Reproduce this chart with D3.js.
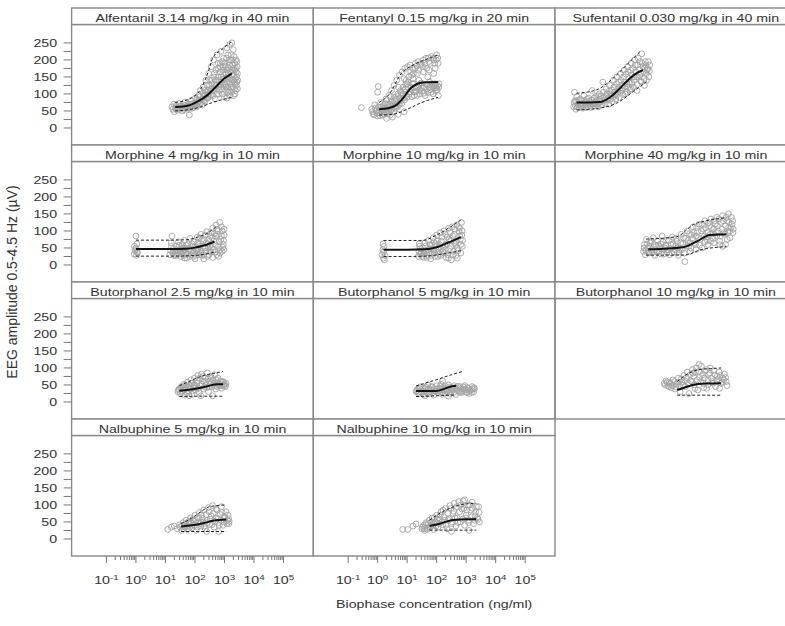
<!DOCTYPE html>
<html>
<head>
<meta charset="utf-8">
<script src="https://cdn.jsdelivr.net/npm/d3@7"></script>
<style>
  html, body { margin: 0; padding: 0; background: #fff; }
  svg { display: block; font-family: "Liberation Sans", Arial, Helvetica, sans-serif; }
</style>
</head>
<body>
<svg id="chart" width="785" height="626"></svg>
<script>
// ---- Panel titles (lattice order: left-to-right, top-to-bottom) ----
const panelTitles = [
  "Alfentanil 3.14 mg/kg in 40 min", "Fentanyl 0.15 mg/kg in 20 min", "Sufentanil 0.030 mg/kg in 40 min",
  "Morphine 4 mg/kg in 10 min", "Morphine 10 mg/kg in 10 min", "Morphine 40 mg/kg in 10 min",
  "Butorphanol 2.5 mg/kg in 10 min", "Butorphanol 5 mg/kg in 10 min", "Butorphanol 10 mg/kg in 10 min",
  "Nalbuphine 5 mg/kg in 10 min", "Nalbuphine 10 mg/kg in 10 min"
];

// ---- Axis ticks ----
const yMajorTicks = [0, 50, 100, 150, 200, 250];
const yMinorTicks = [25, 75, 125, 175, 225];
const xDecades = [-1, 0, 1, 2, 3, 4, 5];
const xMinorMultipliers = [2, 3, 4, 5, 6, 7, 8, 9];

// ---- Observations: [log10 biophase concentration (ng/ml), EEG amplitude (µV)] ----
const alfentanilObs = [[1.22,62],[1.25,55],[1.28,70],[1.30,48],[1.33,60],[1.36,66],[1.40,52],[1.42,58],[1.45,72],[1.50,55],[1.53,63],[1.57,50],[1.60,68],[1.63,58],[1.66,76],[1.70,62],[1.74,55],[1.78,70],[1.81,38],[1.84,64],[1.87,80],[1.90,58],[1.94,72],[1.98,66],[2.02,88],[2.05,62],[2.08,78],[2.12,96],[2.15,70],[2.18,110],[2.22,84],[2.25,68],[2.28,120],[2.31,95],[2.34,78],[2.37,140],[2.40,105],[2.43,88],[2.46,160],[2.49,125],[2.52,96],[2.55,180],[2.58,140],[2.60,110],[2.63,200],[2.66,160],[2.69,85],[2.72,125],[2.75,215],[2.78,175],[2.80,100],[2.83,140],[2.86,190],[2.88,225],[2.91,115],[2.94,160],[2.97,205],[3.00,90],[3.02,130],[3.05,180],[3.08,235],[3.10,150],[3.12,105],[3.15,195],[3.18,245],[3.20,165],[3.22,120],[3.25,250],[3.27,185],[3.29,140],[3.31,95],[3.33,210],[3.35,170],[3.37,130],[3.39,200],[3.41,150],[3.43,180],[3.44,115],[3.30,230],[3.12,215],[2.98,145],[3.36,100],[3.05,120],[2.85,165],[2.70,140],[3.15,175],[3.25,155],[3.35,190],[3.40,165],[3.10,135],[3.20,200],[3.30,175],[2.90,135],[2.95,180],[3.05,160],[2.80,120],[2.65,130],[2.55,115],[2.45,100],[2.35,95],[2.25,85],[2.10,75],[1.95,60],[3.42,135],[3.38,110],
  [1.35,57],[1.48,64],[1.55,58],[1.62,54],[1.68,66],[1.72,60],[1.76,65],[1.83,58],[1.88,70],[1.92,64],[2.00,72],[2.03,66],[2.07,84],[2.13,80],[2.17,92],[2.20,75],[2.27,102],[2.30,80],[2.33,110],[2.38,88],[2.41,125],[2.44,112],[2.47,92],[2.50,140],[2.53,108],[2.57,130],[2.61,95],[2.64,150],[2.67,118],[2.71,170],[2.74,100],[2.77,150],[2.79,190],[2.82,110],[2.84,180],[2.87,128],[2.89,150],[2.92,195],[2.93,100],[2.96,170],[2.99,125],[3.01,190],[3.03,110],[3.04,145],[3.07,205],[3.09,170],[3.11,120],[3.13,160],[3.14,140],[3.16,110],[3.17,185],[3.19,130],[3.21,145],[3.23,215],[3.24,105],[3.26,170],[3.28,120],[3.28,200],[3.32,155],[3.34,115],[3.36,145],[3.38,175],[3.40,125],[3.42,195],[3.44,160],[3.45,140],[3.33,135],[3.18,95],[3.08,88]];
const alfentanilMedian = [[1.33,62],[1.6,63],[1.85,68],[2.1,78],[2.4,95],[2.72,122],[3.0,146],[3.25,160]];
const alfentanilP95 = [[1.33,75],[1.8,85],[2.2,115],[2.45,165],[2.6,205],[2.9,230],[3.22,252]];
const alfentanilP05 = [[1.33,50],[1.8,54],[2.2,62],[2.6,75],[3.0,85],[3.25,90]];

const fentanylObs = [[-0.55,60],[0.02,122],[0.0,105],[-0.20,55],[-0.15,42],[-0.10,68],[-0.05,50],[0.00,35],[0.03,62],[0.06,45],[0.10,75],[0.13,55],[0.16,38],[0.20,66],[0.24,48],[0.28,85],[0.31,58],[0.34,42],[0.38,95],[0.41,70],[0.44,52],[0.47,110],[0.50,80],[0.53,60],[0.56,125],[0.59,90],[0.62,65],[0.65,140],[0.68,100],[0.71,72],[0.74,155],[0.77,110],[0.80,80],[0.83,165],[0.86,120],[0.89,88],[0.92,175],[0.95,128],[0.98,95],[1.01,180],[1.04,135],[1.07,100],[1.10,185],[1.13,120],[1.16,92],[1.19,175],[1.22,130],[1.25,105],[1.28,190],[1.31,118],[1.34,96],[1.37,195],[1.40,125],[1.43,100],[1.46,185],[1.49,132],[1.52,108],[1.55,200],[1.58,120],[1.61,95],[1.64,205],[1.67,128],[1.70,104],[1.73,195],[1.76,135],[1.79,112],[1.82,210],[1.85,122],[1.88,100],[1.91,200],[1.94,130],[1.97,110],[2.00,215],[2.03,125],[2.06,95],[2.05,190],[1.95,175],[1.75,170],[1.55,165],[1.35,160],[1.15,155],[0.90,145],[0.70,120],[0.45,92],[0.25,72],[2.08,130],[1.98,118],[0.30,28],[0.50,32],[0.70,40],[0.90,48],
  [-0.18,48],[-0.12,38],[-0.08,58],[-0.02,44],[0.05,52],[0.08,36],[0.12,62],[0.15,46],[0.18,52],[0.22,40],[0.26,60],[0.29,45],[0.33,68],[0.36,50],[0.40,62],[0.43,38],[0.46,75],[0.49,55],[0.52,68],[0.55,48],[0.58,80],[0.61,58],[0.64,85],[0.67,62],[0.70,95],[0.73,68],[0.76,88],[0.79,104],[0.82,72],[0.85,98],[0.88,110],[0.91,82],[0.94,115],[0.97,140],[1.00,90],[1.03,120],[1.06,150],[1.09,105],[1.12,165],[1.15,112],[1.18,130],[1.21,160],[1.24,95],[1.27,175],[1.30,108],[1.33,182],[1.36,120],[1.39,170],[1.42,112],[1.45,130],[1.48,190],[1.51,118],[1.54,180],[1.57,102],[1.60,190],[1.63,115],[1.66,175],[1.69,125],[1.72,205],[1.75,118],[1.78,190],[1.81,105],[1.84,130],[1.87,205],[1.90,118],[1.93,190],[1.96,125],[1.99,200],[2.02,112],[2.04,205],[2.07,120],[1.40,140],[1.20,145],[1.00,130],[1.70,150],[1.90,160]];
const fentanylMedian = [[0.05,55],[0.35,58],[0.64,68],[0.9,92],[1.1,115],[1.35,130],[1.6,134],[2.05,135]];
const fentanylP95 = [[0.05,75],[0.4,100],[0.8,160],[1.2,185],[1.6,200],[2.05,215]];
const fentanylP05 = [[0.05,38],[0.5,40],[1.0,55],[1.5,75],[2.05,90]];

const sufentanilObs = [[-1.55,62],[-1.52,105],[-1.50,80],[-1.47,55],[-1.44,92],[-1.40,70],[-1.36,60],[-1.32,85],[-1.28,72],[-1.24,58],[-1.20,95],[-1.16,66],[-1.12,78],[-1.08,62],[-1.04,88],[-1.00,70],[-0.96,60],[-0.92,110],[-0.88,75],[-0.84,65],[-0.80,92],[-0.76,70],[-0.72,62],[-0.68,100],[-0.64,78],[-0.60,68],[-0.56,135],[-0.52,90],[-0.48,72],[-0.44,115],[-0.40,82],[-0.36,70],[-0.32,125],[-0.28,95],[-0.24,78],[-0.20,140],[-0.16,105],[-0.12,85],[-0.08,150],[-0.04,115],[0.00,90],[0.04,160],[0.08,125],[0.12,98],[0.16,170],[0.20,135],[0.24,105],[0.28,180],[0.32,145],[0.36,112],[0.40,190],[0.44,155],[0.48,120],[0.52,200],[0.56,165],[0.60,128],[0.64,205],[0.68,172],[0.72,138],[0.76,218],[0.80,180],[0.84,145],[0.88,195],[0.92,160],[0.96,175],[1.00,150],[1.03,185],[0.70,155],[0.50,140],[0.30,120],[0.10,110],[-0.10,95],[-0.30,85],[0.85,125],[0.60,110],
  [-1.53,75],[-1.49,65],[-1.45,78],[-1.42,62],[-1.38,82],[-1.34,70],[-1.30,64],[-1.26,80],[-1.22,68],[-1.18,75],[-1.14,60],[-1.10,85],[-1.06,70],[-1.02,78],[-0.98,66],[-0.94,82],[-0.90,70],[-0.86,88],[-0.82,72],[-0.78,80],[-0.74,95],[-0.70,72],[-0.66,85],[-0.62,95],[-0.58,78],[-0.54,105],[-0.50,82],[-0.46,95],[-0.42,100],[-0.38,88],[-0.34,108],[-0.30,100],[-0.26,112],[-0.22,90],[-0.18,120],[-0.14,98],[-0.10,130],[-0.06,105],[-0.02,135],[0.02,112],[0.06,140],[0.10,118],[0.14,150],[0.18,122],[0.22,158],[0.26,130],[0.30,165],[0.34,135],[0.38,170],[0.42,132],[0.46,175],[0.50,150],[0.54,185],[0.58,150],[0.62,185],[0.66,150],[0.70,195],[0.74,160],[0.78,190],[0.82,165],[0.86,178],[0.90,185],[0.94,170],[0.98,195],[1.02,168],[0.92,140],[0.75,135],[0.40,115],[0.20,100]];
const sufentanilMedian = [[-1.45,75],[-1.0,75],[-0.66,76],[-0.35,88],[-0.09,107],[0.15,128],[0.36,146],[0.6,162],[0.8,170]];
const sufentanilP95 = [[-1.45,102],[-0.77,112],[-0.4,132],[-0.09,156],[0.36,195],[0.7,224]];
const sufentanilP05 = [[-1.45,53],[-0.7,58],[-0.09,73],[0.47,107],[0.92,136]];

const morphine4Obs = [[-0.06,32],[-0.03,42],[0.0,50],[0.02,28],[0.04,38],[-0.05,55],[0.03,62],[0.0,85],[-0.02,45],[0.05,35],[1.15,30],[1.18,42],[1.2,55],[1.22,85],[1.25,36],[1.27,48],[1.2,65],[1.28,28],[1.32,40],[1.36,55],[1.40,30],[1.44,68],[1.48,45],[1.52,25],[1.56,60],[1.60,38],[1.64,72],[1.68,50],[1.72,20],[1.76,62],[1.80,42],[1.84,78],[1.88,30],[1.92,55],[1.96,68],[2.00,18],[2.04,48],[2.08,82],[2.12,36],[2.16,62],[2.20,90],[2.24,28],[2.28,55],[2.32,75],[2.36,40],[2.40,98],[2.44,62],[2.48,30],[2.52,85],[2.56,50],[2.60,108],[2.64,70],[2.68,38],[2.72,118],[2.76,90],[2.80,55],[2.84,125],[2.88,75],[2.92,100],[2.96,60],[2.99,88],[2.90,112],[2.75,105],[2.55,95],[2.35,88],[2.15,80],[1.95,25],[1.65,20],[2.30,18],[2.60,22],[2.85,35],[2.98,45],[2.50,42],[2.10,48],[1.70,35],
  [1.34,28],[1.38,45],[1.42,35],[1.46,58],[1.50,40],[1.54,32],[1.58,50],[1.62,28],[1.66,45],[1.70,58],[1.74,32],[1.78,48],[1.82,25],[1.86,40],[1.90,62],[1.94,35],[1.98,52],[2.02,28],[2.06,42],[2.10,65],[2.14,30],[2.18,55],[2.22,40],[2.26,70],[2.30,30],[2.34,50],[2.38,65],[2.42,25],[2.46,75],[2.50,55],[2.54,38],[2.58,80],[2.62,45],[2.66,92],[2.70,60],[2.74,30],[2.78,100],[2.82,68],[2.86,45],[2.90,85],[2.94,52],[2.97,72],[2.99,105],[2.92,40],[2.80,25],[2.70,85],[2.45,50],[2.20,35],[1.60,45]];
const morphine4Median = [[0.0,47],[0.6,47],[1.2,47],[1.7,48],[2.0,51],[2.3,57],[2.66,69]];
const morphine4P95 = [[0.0,73],[1.0,73],[1.7,74],[2.1,82],[2.45,95],[2.72,113]];
const morphine4P05 = [[0.0,26],[1.2,26],[1.8,27],[2.3,31],[2.72,39]];

const morphine10Obs = [[0.15,30],[0.18,45],[0.2,20],[0.22,55],[0.2,38],[0.25,28],[0.18,62],[0.23,15],[1.38,25],[1.4,40],[1.42,55],[1.44,32],[1.41,62],[1.45,48],[1.48,35],[1.52,50],[1.56,22],[1.60,65],[1.64,42],[1.68,28],[1.72,72],[1.76,48],[1.80,18],[1.84,58],[1.88,80],[1.92,35],[1.96,62],[2.00,88],[2.04,25],[2.08,52],[2.12,95],[2.16,70],[2.20,40],[2.24,100],[2.28,58],[2.32,22],[2.36,82],[2.40,108],[2.44,48],[2.48,72],[2.52,112],[2.56,30],[2.60,90],[2.64,60],[2.68,118],[2.72,42],[2.76,98],[2.80,75],[2.84,125],[2.87,55],[2.85,88],[2.70,20],[2.50,15],[2.30,45],[2.10,32],[1.90,45],[2.60,65],[2.78,108],
  [1.50,25],[1.54,42],[1.58,32],[1.62,55],[1.66,22],[1.70,45],[1.74,35],[1.78,60],[1.82,28],[1.86,48],[1.90,68],[1.94,25],[1.98,45],[2.02,70],[2.06,38],[2.10,60],[2.14,28],[2.18,82],[2.22,52],[2.26,35],[2.30,90],[2.34,62],[2.38,30],[2.42,75],[2.46,95],[2.50,55],[2.54,85],[2.58,40],[2.62,105],[2.66,70],[2.70,50],[2.74,112],[2.78,85],[2.82,60],[2.86,100],[2.88,72],[2.82,35],[2.65,28],[2.40,20]];
const morphine10Median = [[0.2,45],[1.0,45],[1.6,46],[2.0,52],[2.4,66],[2.82,82]];
const morphine10P95 = [[0.2,72],[1.0,72],[1.5,72],[2.0,88],[2.4,108],[2.82,132]];
const morphine10P05 = [[0.2,25],[1.0,25],[1.6,26],[2.2,32],[2.82,42]];

const morphine40Obs = [[0.82,40],[0.85,60],[0.88,30],[0.92,75],[0.96,50],[1.00,35],[1.05,65],[1.10,45],[1.15,80],[1.20,28],[1.25,55],[1.30,70],[1.35,40],[1.40,62],[1.45,85],[1.50,32],[1.55,50],[1.60,72],[1.65,45],[1.70,30],[1.75,60],[1.80,82],[1.85,38],[1.90,55],[1.95,70],[2.00,28],[2.05,48],[2.10,90],[2.15,62],[2.20,35],[2.22,10],[2.25,78],[2.30,100],[2.35,55],[2.40,40],[2.45,88],[2.50,112],[2.55,65],[2.60,45],[2.65,98],[2.70,120],[2.75,75],[2.80,50],[2.85,105],[2.90,130],[2.95,82],[3.00,60],[3.05,115],[3.10,135],[3.15,92],[3.20,65],[3.25,120],[3.30,140],[3.35,100],[3.40,70],[3.45,125],[3.50,145],[3.55,95],[3.60,60],[3.65,130],[3.70,110],[3.75,80],[3.80,140],[3.85,95],[3.82,120],[3.70,150],[3.50,55],[3.20,105],[2.90,68],[2.60,85],[2.40,65],[3.00,95],[3.30,85],[3.60,115],[3.75,100],
  [0.84,50],[0.90,42],[0.94,62],[0.98,38],[1.02,55],[1.08,70],[1.12,36],[1.18,60],[1.22,45],[1.28,38],[1.32,58],[1.38,50],[1.42,32],[1.48,68],[1.52,45],[1.58,58],[1.62,38],[1.68,72],[1.72,48],[1.78,35],[1.82,62],[1.88,45],[1.92,78],[1.98,50],[2.02,38],[2.08,65],[2.12,45],[2.18,80],[2.28,55],[2.32,72],[2.38,92],[2.42,50],[2.48,75],[2.52,95],[2.58,60],[2.62,110],[2.68,80],[2.72,58],[2.78,100],[2.82,118],[2.88,85],[2.92,110],[2.98,72],[3.02,125],[3.08,90],[3.12,110],[3.18,78],[3.22,130],[3.28,95],[3.32,115],[3.38,135],[3.42,85],[3.48,105],[3.52,130],[3.58,90],[3.62,140],[3.68,95],[3.72,125],[3.78,110],[3.84,130],[3.86,105],[3.66,75],[3.40,60],[3.10,70]];
const morphine40Median = [[0.98,46],[1.5,48],[2.16,52],[2.6,68],[3.07,88],[3.63,90]];
const morphine40P95 = [[0.9,76],[1.94,83],[2.5,118],[3.07,132],[3.63,139]];
const morphine40P05 = [[0.9,29],[2.2,29],[2.73,44],[3.63,54]];

const butorphanol25Obs = [[1.42,30],[1.46,38],[1.50,25],[1.54,45],[1.58,32],[1.62,52],[1.66,20],[1.70,40],[1.74,58],[1.78,30],[1.82,48],[1.86,65],[1.90,22],[1.94,42],[1.98,70],[2.02,35],[2.06,55],[2.10,78],[2.14,28],[2.18,48],[2.22,82],[2.26,62],[2.30,38],[2.34,72],[2.38,50],[2.42,85],[2.46,30],[2.50,60],[2.54,75],[2.58,45],[2.62,65],[2.66,80],[2.70,38],[2.74,55],[2.78,70],[2.82,48],[2.86,62],[2.90,40],[2.94,58],[2.98,50],[3.02,45],[3.05,55],[2.20,18],[2.60,18],[1.80,18],[2.40,42],[2.00,50],
  [1.44,35],[1.52,40],[1.56,28],[1.60,44],[1.64,36],[1.68,50],[1.72,28],[1.76,45],[1.84,38],[1.88,55],[1.92,32],[1.96,48],[2.04,42],[2.08,62],[2.12,40],[2.16,70],[2.24,52],[2.28,75],[2.32,45],[2.36,60],[2.44,68],[2.48,45],[2.52,52],[2.56,70],[2.64,55],[2.68,48],[2.72,65],[2.76,45],[2.84,52],[2.88,58],[2.92,48],[2.96,60],[3.00,52],[3.04,48]];
const butorphanol25Median = [[1.47,33],[1.8,36],[2.15,41],[2.5,48],[2.72,52],[2.95,52]];
const butorphanol25P95 = [[1.47,48],[1.8,60],[2.1,72],[2.4,80],[2.7,85],[2.95,90]];
const butorphanol25P05 = [[1.47,16],[2.2,17],[2.95,17]];

const butorphanol5Obs = [[1.30,30],[1.35,38],[1.40,25],[1.45,45],[1.50,32],[1.55,22],[1.60,40],[1.65,30],[1.70,50],[1.75,25],[1.80,36],[1.85,44],[1.90,20],[1.95,32],[2.00,48],[2.05,28],[2.10,40],[2.15,52],[2.20,22],[2.25,35],[2.30,46],[2.35,30],[2.40,50],[2.45,25],[2.50,42],[2.55,36],[2.60,48],[2.65,22],[2.70,40],[2.75,32],[2.80,45],[2.85,28],[2.90,38],[2.95,48],[3.00,30],[3.05,42],[3.10,25],[3.15,36],[3.20,45],[3.25,30],[3.28,38],[2.20,62],[1.60,18],[2.40,17],
  [1.33,33],[1.38,28],[1.42,40],[1.48,28],[1.52,38],[1.58,30],[1.62,44],[1.68,26],[1.72,38],[1.78,30],[1.82,46],[1.88,28],[1.92,40],[1.98,30],[2.02,38],[2.08,32],[2.12,46],[2.18,30],[2.22,42],[2.28,28],[2.32,38],[2.38,34],[2.42,44],[2.48,30],[2.52,38],[2.58,28],[2.62,42],[2.68,34],[2.72,46],[2.78,28],[2.82,38],[2.88,32],[2.92,44],[2.98,36],[3.02,28],[3.08,40],[3.12,32],[3.18,28],[3.22,38],[3.27,42]];
const butorphanol5Median = [[1.3,32],[1.98,32],[2.3,40],[2.55,47],[2.66,48]];
const butorphanol5P95 = [[1.3,47],[1.98,65],[2.5,80],[2.89,90]];
const butorphanol5P05 = [[1.3,16],[2.0,18],[2.66,21]];

const butorphanol10Obs = [[1.52,55],[1.58,62],[1.64,48],[1.70,58],[1.76,42],[1.82,65],[1.88,38],[1.94,52],[2.00,70],[2.06,30],[2.12,58],[2.18,78],[2.24,45],[2.30,88],[2.36,25],[2.42,62],[2.48,95],[2.54,50],[2.60,100],[2.66,35],[2.72,72],[2.78,105],[2.84,55],[2.90,90],[2.96,40],[3.02,80],[3.08,100],[3.14,60],[3.20,92],[3.26,45],[3.32,75],[3.38,88],[3.44,55],[3.50,70],[3.56,82],[3.62,60],[3.65,48],[2.70,110],[2.50,85],[3.00,65],[3.40,40],
  [1.55,50],[1.62,58],[1.68,45],[1.74,55],[1.80,48],[1.86,60],[1.92,45],[1.98,58],[2.04,48],[2.10,68],[2.16,50],[2.22,62],[2.28,72],[2.34,55],[2.40,80],[2.46,60],[2.52,75],[2.58,88],[2.64,65],[2.70,90],[2.76,60],[2.82,80],[2.88,70],[2.94,95],[3.00,50],[3.06,85],[3.12,70],[3.18,55],[3.24,80],[3.30,62],[3.36,68],[3.42,78],[3.48,58],[3.54,65],[3.60,72],[2.56,40],[2.86,42]];
const butorphanol10Median = [[1.96,35],[2.2,42],[2.48,50],[2.9,54],[3.45,55]];
const butorphanol10P95 = [[1.96,60],[2.3,82],[2.7,95],[3.1,98],[3.45,100]];
const butorphanol10P05 = [[1.96,20],[3.45,20]];

const nalbuphine5Obs = [[1.08,28],[1.20,35],[1.30,38],[1.40,30],[1.48,42],[1.55,25],[1.60,48],[1.65,35],[1.70,55],[1.75,28],[1.80,45],[1.85,62],[1.90,32],[1.95,52],[2.00,70],[2.05,25],[2.10,48],[2.15,78],[2.20,38],[2.25,60],[2.30,85],[2.35,30],[2.40,55],[2.45,92],[2.50,42],[2.55,68],[2.60,98],[2.65,35],[2.70,62],[2.75,85],[2.80,48],[2.85,72],[2.90,95],[2.95,40],[3.00,65],[3.05,80],[3.10,55],[3.15,45],[3.12,70],[2.40,22],[2.80,22],[2.20,50],[1.90,40],
  [1.50,35],[1.58,40],[1.62,30],[1.68,44],[1.72,38],[1.78,50],[1.82,35],[1.88,48],[1.92,58],[1.98,40],[2.02,55],[2.08,35],[2.12,62],[2.18,45],[2.22,70],[2.28,50],[2.32,38],[2.38,72],[2.42,48],[2.48,80],[2.52,58],[2.58,42],[2.62,75],[2.68,52],[2.72,88],[2.78,60],[2.82,40],[2.88,55],[2.92,78],[2.98,50],[3.02,62],[3.08,45],[3.14,60],[3.16,52]];
const nalbuphine5Median = [[1.53,37],[1.9,40],[2.26,46],[2.65,54],[3.06,57]];
const nalbuphine5P95 = [[1.53,45],[1.9,62],[2.2,80],[2.5,95],[3.05,100]];
const nalbuphine5P05 = [[1.53,22],[3.06,22]];

const nalbuphine10Obs = [[0.85,28],[1.02,28],[1.20,38],[1.30,44],[1.50,30],[1.55,40],[1.60,25],[1.65,48],[1.70,32],[1.75,55],[1.80,38],[1.85,62],[1.90,28],[1.95,50],[2.00,70],[2.05,35],[2.10,58],[2.15,80],[2.20,42],[2.25,65],[2.30,90],[2.35,30],[2.40,55],[2.45,98],[2.50,45],[2.55,75],[2.60,105],[2.65,38],[2.70,62],[2.75,110],[2.80,50],[2.85,88],[2.90,112],[2.95,40],[3.00,70],[3.05,100],[3.10,55],[3.15,85],[3.20,108],[3.25,45],[3.30,68],[3.35,95],[3.40,58],[3.44,78],[2.95,115],[2.50,22],[3.10,25],[2.00,48],
  [1.52,35],[1.58,30],[1.62,42],[1.68,28],[1.72,45],[1.78,35],[1.82,50],[1.88,40],[1.92,62],[1.98,38],[2.02,58],[2.08,45],[2.12,70],[2.18,50],[2.22,85],[2.28,55],[2.32,40],[2.38,75],[2.42,60],[2.48,90],[2.52,50],[2.58,82],[2.62,62],[2.68,95],[2.72,48],[2.78,80],[2.82,100],[2.88,58],[2.92,90],[2.98,62],[3.02,85],[3.08,48],[3.12,100],[3.18,65],[3.22,90],[3.28,55],[3.32,80],[3.38,62],[3.42,95],[3.45,50]];
const nalbuphine10Median = [[1.76,38],[2.1,45],[2.55,56],[3.0,58],[3.34,58]];
const nalbuphine10P95 = [[1.76,55],[2.2,80],[2.6,95],[3.0,103],[3.34,105]];
const nalbuphine10P05 = [[1.76,26],[3.34,26]];

// Panel table assembled from the arrays above
const panels = [
  [alfentanilObs, alfentanilMedian, alfentanilP05, alfentanilP95],
  [fentanylObs, fentanylMedian, fentanylP05, fentanylP95],
  [sufentanilObs, sufentanilMedian, sufentanilP05, sufentanilP95],
  [morphine4Obs, morphine4Median, morphine4P05, morphine4P95],
  [morphine10Obs, morphine10Median, morphine10P05, morphine10P95],
  [morphine40Obs, morphine40Median, morphine40P05, morphine40P95],
  [butorphanol25Obs, butorphanol25Median, butorphanol25P05, butorphanol25P95],
  [butorphanol5Obs, butorphanol5Median, butorphanol5P05, butorphanol5P95],
  [butorphanol10Obs, butorphanol10Median, butorphanol10P05, butorphanol10P95],
  [nalbuphine5Obs, nalbuphine5Median, nalbuphine5P05, nalbuphine5P95],
  [nalbuphine10Obs, nalbuphine10Median, nalbuphine10P05, nalbuphine10P95]
].map((p, i) => ({ title: panelTitles[i], obs: p[0], median: p[1], p05: p[2], p95: p[3], col: i % 3, row: Math.floor(i / 3) }));

// ---- Layout ----
const svg = d3.select("#chart");
const SX = 1.29;               // horizontal glyph stretch of the lattice text
const originX = 71.6, originY = 8;
const colW = 241.7, rowH = 137, stripH = 16.5;
const nRows = 4;
const frame = "#888", ink = "#333";

const colLeft = c => originX + c * colW;
const rowTop = r => originY + r * rowH;

function stretchedText(g, x, y, str, anchor, size) {
  return g.append("text")
    .attr("transform", `translate(${x},${y}) scale(${SX},1)`)
    .attr("text-anchor", anchor)
    .attr("font-size", size || 11)
    .attr("fill", ink)
    .text(str);
}

const lineGen = (xs, ys) => d3.line()
  .x(d => xs(Math.pow(10, d[0])))
  .y(d => ys(d[1]))
  .curve(d3.curveMonotoneX);

panels.forEach(p => {
  const left = colLeft(p.col), right = left + colW;
  const top = rowTop(p.row), plotTop = top + stripH, bottom = top + rowH;

  const x = d3.scaleLog().domain([Math.pow(10, -2.18), Math.pow(10, 6.01)]).range([left, right]);
  const y = d3.scaleLinear().domain([-50, 304]).range([bottom, plotTop]);

  const g = svg.append("g");
  g.append("defs").append("clipPath").attr("id", "clip" + p.row + p.col)
    .append("rect").attr("x", left).attr("y", plotTop).attr("width", colW).attr("height", bottom - plotTop);
  const plot = g.append("g").attr("clip-path", `url(#clip${p.row}${p.col})`);

  // observed amplitudes
  plot.selectAll("circle").data(p.obs).join("circle")
    .attr("cx", d => x(Math.pow(10, d[0])))
    .attr("cy", d => y(d[1]))
    .attr("r", 2.9)
    .attr("fill", "none")
    .attr("stroke", "#a3a3a3")
    .attr("stroke-width", 0.9);

  // 5th / 95th percentile of simulations
  [p.p05, p.p95].forEach(band => {
    plot.append("path").datum(band)
      .attr("d", lineGen(x, y))
      .attr("fill", "none").attr("stroke", "#222")
      .attr("stroke-width", 1).attr("stroke-dasharray", "3,2");
  });
  // median of simulations
  plot.append("path").datum(p.median)
    .attr("d", lineGen(x, y))
    .attr("fill", "none").attr("stroke", "#111").attr("stroke-width", 2);

  // panel frame and strip
  g.append("rect").attr("x", left).attr("y", plotTop).attr("width", colW).attr("height", bottom - plotTop)
    .attr("fill", "none").attr("stroke", frame).attr("stroke-width", 1.4);
  g.append("rect").attr("x", left).attr("y", top).attr("width", colW).attr("height", stripH)
    .attr("fill", "#fff").attr("stroke", frame).attr("stroke-width", 1.4);
  stretchedText(g, left + colW / 2, top + 13.8, p.title, "middle");

  // y axis on the first column
  if (p.col === 0) {
    const ya = g.append("g");
    yMajorTicks.concat(yMinorTicks).forEach(v => {
      ya.append("line").attr("x1", left - 8).attr("x2", left)
        .attr("y1", y(v)).attr("y2", y(v)).attr("stroke", "#777").attr("stroke-width", 1);
    });
    yMajorTicks.forEach(v => {
      stretchedText(ya, left - 14.5, y(v) + 3.9, String(v), "end");
    });
  }

  // x axis below the bottom panels
  if (p.row === nRows - 1) {
    const xa = g.append("g");
    xDecades.forEach(k => {
      const xv = x(Math.pow(10, k));
      xa.append("line").attr("x1", xv).attr("x2", xv).attr("y1", bottom).attr("y2", bottom + 7)
        .attr("stroke", "#777").attr("stroke-width", 1);
      if (k < xDecades[xDecades.length - 1]) {
        xMinorMultipliers.forEach(m => {
          const xm = x(m * Math.pow(10, k));
          xa.append("line").attr("x1", xm).attr("x2", xm).attr("y1", bottom).attr("y2", bottom + 4)
            .attr("stroke", "#777").attr("stroke-width", 1);
        });
      }
      const t = stretchedText(xa, xv, bottom + 28, "", "middle");
      t.append("tspan").text("10");
      t.append("tspan").attr("font-size", 7.5).attr("dy", -4.5).text(String(k));
    });
  }
});

// axis titles
const centreX = originX + 3 * colW / 2;
const centreY = originY + nRows * rowH / 2;
stretchedText(svg, centreX, 608, "Biophase concentration (ng/ml)", "middle");
svg.append("text")
  .attr("transform", `translate(17,${centreY}) rotate(-90)`)
  .attr("text-anchor", "middle")
  .attr("font-size", 14)
  .attr("fill", ink)
  .text("EEG amplitude 0.5-4.5 Hz (µV)");
</script>
</body>
</html>
